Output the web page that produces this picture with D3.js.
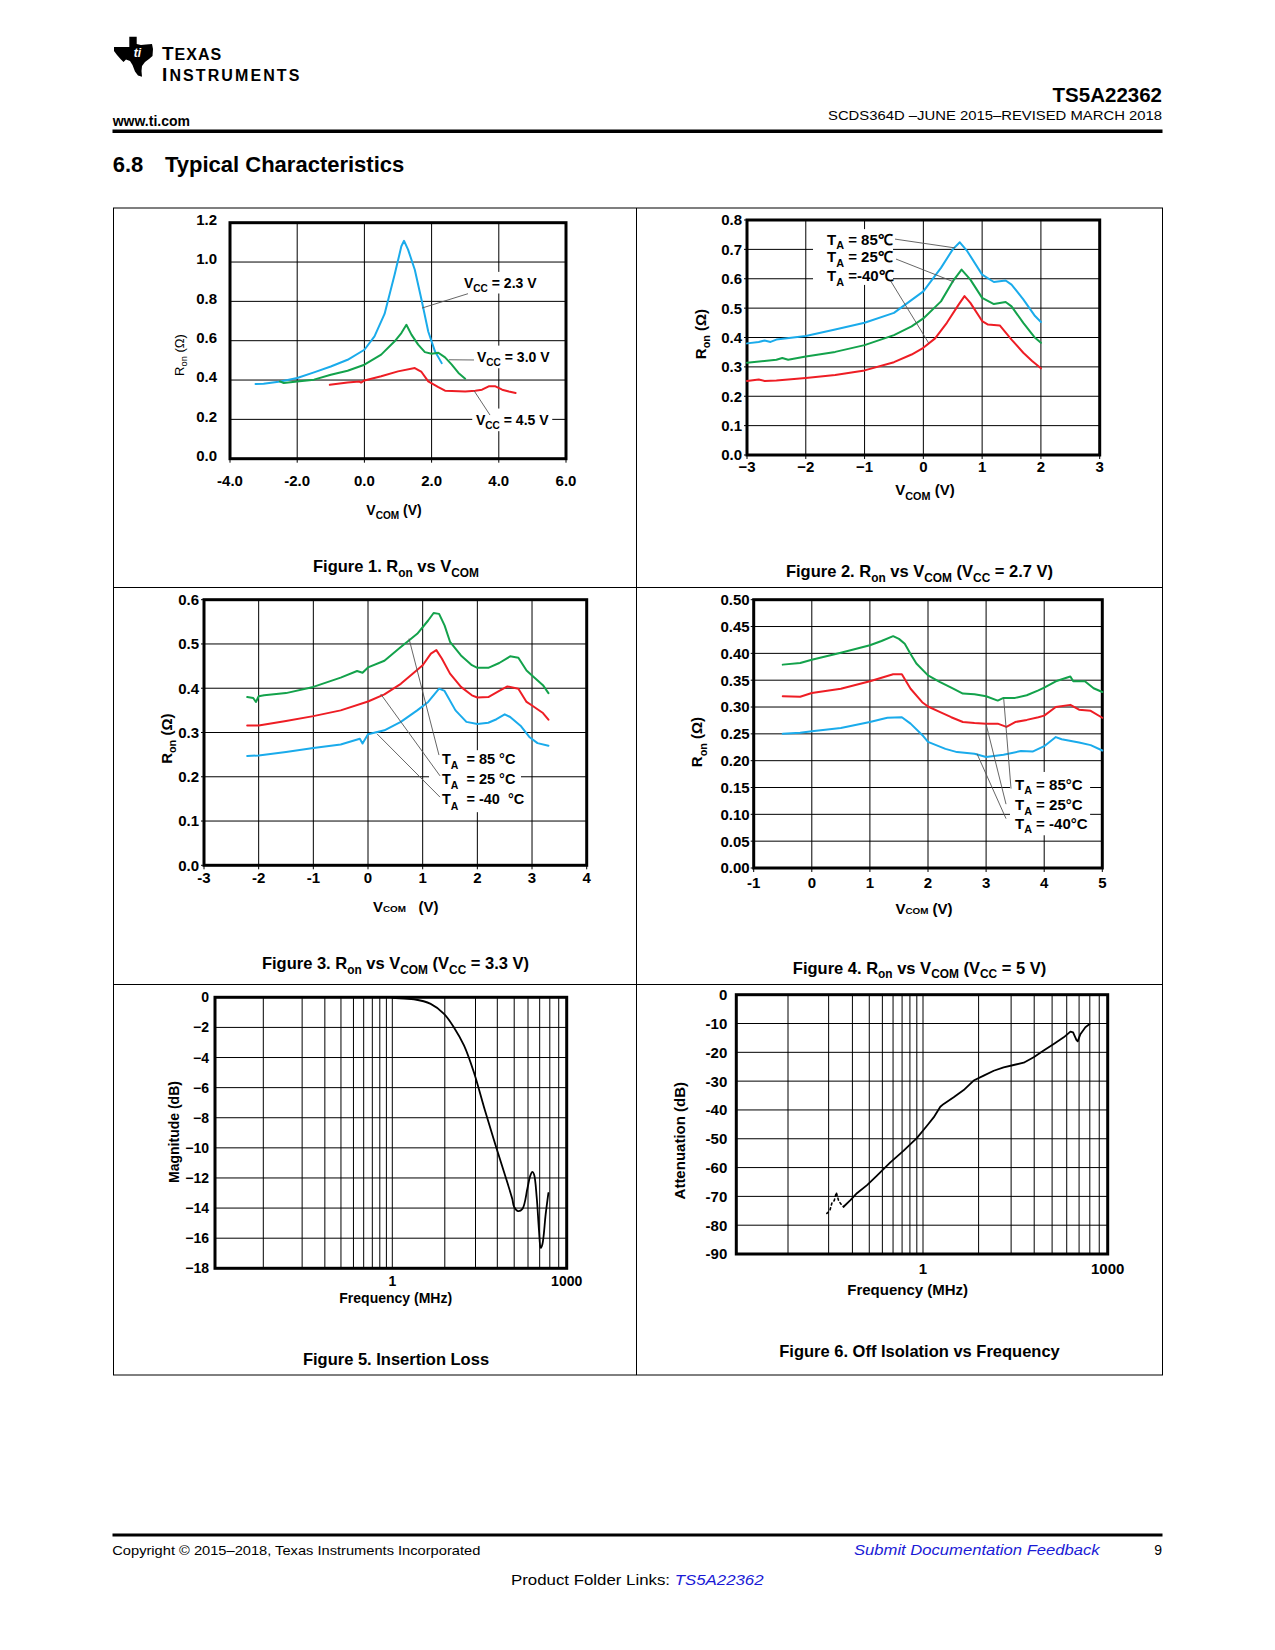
<!DOCTYPE html>
<html><head><meta charset="utf-8">
<script src="https://cdn.jsdelivr.net/npm/d3@7"></script>
<style>
body{margin:0;background:#fff}
svg{display:block}
text{font-family:"Liberation Sans",Arial,Helvetica,sans-serif}
</style>
</head><body>
<svg id="page" width="1275" height="1650"></svg>
<script>
// ---------------- DATA ----------------
// Figure 1: Ron vs VCOM for three supply voltages  [VCOM (V), Ron (ohm)]
const fig1Vcc23 = [[-3.24,0.38],[-3.0,0.381],[-2.5,0.393],[-2.0,0.41],[-1.5,0.439],[-1.0,0.469],[-0.5,0.503],[0,0.554],[0.3,0.622],[0.6,0.736],[0.9,0.936],[1.1,1.08],[1.18,1.108],[1.3,1.063],[1.5,0.961],[1.7,0.808],[1.9,0.647],[2.1,0.546],[2.3,0.486]];
const fig1Vcc30 = [[-2.52,0.393],[-2.4,0.385],[-2.0,0.393],[-1.5,0.402],[-1.0,0.427],[-0.5,0.447],[0,0.478],[0.5,0.529],[0.9,0.597],[1.1,0.639],[1.25,0.681],[1.4,0.631],[1.6,0.58],[1.8,0.542],[2.0,0.534],[2.2,0.539],[2.4,0.515],[2.6,0.478],[2.8,0.436],[3.0,0.407]];
const fig1Vcc45 = [[-1.03,0.376],[-0.5,0.388],[-0.15,0.392],[-0.1,0.387],[0,0.398],[0.5,0.419],[1.0,0.444],[1.5,0.461],[1.7,0.441],[1.9,0.393],[2.2,0.364],[2.4,0.346],[3.0,0.342],[3.3,0.346],[3.5,0.351],[3.7,0.368],[3.9,0.368],[4.1,0.351],[4.3,0.342],[4.5,0.334]];
const fig1XTicks = [-4,-2,0,2,4,6];
const fig1XLabels = ["-4.0","-2.0","0.0","2.0","4.0","6.0"];
const fig1YTicks = [0,0.2,0.4,0.6,0.8,1.0,1.2];
const fig1YLabels = ["0.0","0.2","0.4","0.6","0.8","1.0","1.2"];

// Figure 2: VCC = 2.7 V
const fig2T85 = [[-3,0.38],[-2.8,0.385],[-2.7,0.39],[-2.6,0.385],[-2.5,0.393],[-2,0.405],[-1.5,0.427],[-1,0.45],[-0.5,0.484],[0,0.557],[0.3,0.637],[0.5,0.70],[0.62,0.724],[0.75,0.693],[1.0,0.614],[1.2,0.589],[1.4,0.594],[1.5,0.58],[1.7,0.53],[1.9,0.473],[2.0,0.453]];
const fig2T25 = [[-3,0.314],[-2.5,0.324],[-2.4,0.33],[-2.3,0.324],[-2,0.335],[-1.5,0.351],[-1,0.374],[-0.5,0.408],[-0.2,0.438],[0,0.465],[0.3,0.523],[0.5,0.591],[0.65,0.631],[0.8,0.597],[1.0,0.535],[1.2,0.514],[1.4,0.521],[1.5,0.506],[1.7,0.45],[1.9,0.399],[2.0,0.382]];
const fig2Tm40 = [[-3,0.252],[-2.8,0.257],[-2.7,0.252],[-2.5,0.254],[-2,0.262],[-1.5,0.272],[-1,0.288],[-0.5,0.316],[-0.2,0.342],[0,0.365],[0.2,0.397],[0.4,0.45],[0.6,0.512],[0.7,0.541],[0.8,0.518],[1.0,0.456],[1.1,0.444],[1.3,0.441],[1.5,0.393],[1.7,0.348],[1.85,0.32],[2.0,0.295]];
const fig2XTicks = [-3,-2,-1,0,1,2,3];
const fig2XLabels = ["\u22123","\u22122","\u22121","0","1","2","3"];
const fig2YTicks = [0,0.1,0.2,0.3,0.4,0.5,0.6,0.7,0.8];
const fig2YLabels = ["0.0","0.1","0.2","0.3","0.4","0.5","0.6","0.7","0.8"];

// Figure 3: VCC = 3.3 V
const fig3T85 = [[-2.21,0.380],[-2.1,0.378],[-2.05,0.369],[-2.0,0.382],[-1.9,0.384],[-1.5,0.389],[-1.0,0.403],[-0.5,0.424],[-0.2,0.439],[-0.1,0.435],[0,0.447],[0.3,0.462],[0.6,0.493],[0.9,0.523],[1.1,0.553],[1.2,0.570],[1.3,0.568],[1.4,0.542],[1.5,0.505],[1.7,0.474],[1.9,0.452],[2.0,0.446],[2.2,0.446],[2.4,0.457],[2.6,0.472],[2.75,0.469],[2.9,0.44],[3.0,0.429],[3.2,0.407],[3.3,0.389]];
const fig3T25 = [[-2.21,0.316],[-2.0,0.316],[-1.5,0.326],[-1.0,0.337],[-0.5,0.350],[0,0.370],[0.3,0.386],[0.6,0.410],[0.8,0.431],[1.0,0.452],[1.15,0.478],[1.25,0.486],[1.35,0.467],[1.5,0.433],[1.7,0.403],[1.9,0.384],[2.0,0.379],[2.2,0.38],[2.4,0.394],[2.55,0.404],[2.75,0.399],[2.9,0.369],[3.0,0.361],[3.2,0.344],[3.3,0.329]];
const fig3Tm40 = [[-2.21,0.247],[-2.0,0.248],[-1.5,0.256],[-1.0,0.265],[-0.5,0.273],[-0.15,0.286],[-0.1,0.275],[0,0.296],[0.3,0.305],[0.6,0.324],[0.9,0.350],[1.1,0.369],[1.3,0.399],[1.4,0.394],[1.6,0.350],[1.8,0.324],[2.0,0.319],[2.2,0.322],[2.35,0.33],[2.5,0.341],[2.6,0.335],[2.8,0.314],[2.95,0.29],[3.1,0.276],[3.3,0.27]];
const fig3XTicks = [-3,-2,-1,0,1,2,3,4];
const fig3XLabels = ["-3","-2","-1","0","1","2","3","4"];
const fig3YTicks = [0,0.1,0.2,0.3,0.4,0.5,0.6];
const fig3YLabels = ["0.0","0.1","0.2","0.3","0.4","0.5","0.6"];

// Figure 4: VCC = 5 V
const fig4T85 = [[-0.5,0.379],[-0.2,0.382],[0,0.388],[0.5,0.401],[1.0,0.415],[1.2,0.423],[1.4,0.432],[1.5,0.427],[1.6,0.418],[1.7,0.399],[1.8,0.381],[2.0,0.359],[2.2,0.347],[2.4,0.336],[2.6,0.325],[2.8,0.324],[3.0,0.32],[3.2,0.312],[3.3,0.317],[3.5,0.317],[3.7,0.322],[3.9,0.331],[4.0,0.336],[4.2,0.348],[4.45,0.357],[4.5,0.348],[4.7,0.348],[4.85,0.335],[5.0,0.328]];
const fig4T25 = [[-0.5,0.32],[-0.2,0.319],[0,0.326],[0.5,0.334],[1.0,0.348],[1.4,0.361],[1.55,0.361],[1.7,0.334],[1.9,0.309],[2.0,0.301],[2.2,0.291],[2.4,0.281],[2.6,0.272],[2.8,0.27],[3.0,0.269],[3.2,0.269],[3.35,0.263],[3.5,0.272],[3.7,0.276],[3.9,0.281],[4.0,0.284],[4.2,0.3],[4.45,0.304],[4.6,0.295],[4.8,0.293],[5.0,0.28]];
const fig4Tm40 = [[-0.5,0.25],[-0.2,0.252],[0,0.255],[0.5,0.261],[1.0,0.272],[1.3,0.28],[1.55,0.281],[1.7,0.269],[1.9,0.248],[2.0,0.235],[2.3,0.222],[2.5,0.216],[2.8,0.213],[3.0,0.207],[3.3,0.211],[3.6,0.218],[3.8,0.217],[4.0,0.227],[4.2,0.244],[4.3,0.24],[4.6,0.234],[4.8,0.229],[5.0,0.219]];
const fig4XTicks = [-1,0,1,2,3,4,5];
const fig4XLabels = ["-1","0","1","2","3","4","5"];
const fig4YTicks = [0,0.05,0.10,0.15,0.20,0.25,0.30,0.35,0.40,0.45,0.50];
const fig4YLabels = ["0.00","0.05","0.10","0.15","0.20","0.25","0.30","0.35","0.40","0.45","0.50"];

// Figure 5: insertion loss [MHz, dB]
const fig5Loss = [[1,-0.04],[1.59,-0.09],[2.36,-0.13],[4.57,-0.44],[7.75,-1.1],[11.5,-2.0],[17.1,-3.2],[25.4,-5.0],[37.8,-7.3],[56.2,-9.5],[83.5,-11.6],[116,-13.4],[124,-13.9],[145,-14.2],[173,-14.05],[211,-12.7],[234,-11.9],[257,-11.6],[274,-11.75],[305,-13.3],[334,-15.5],[357,-16.65],[382,-16.4],[435,-14.4],[484,-13.0]];
const fig5YTicks = [0,-2,-4,-6,-8,-10,-12,-14,-16,-18];
const fig5YLabels = ["0","\u22122","\u22124","\u22126","\u22128","\u221210","\u221212","\u221214","\u221216","\u221218"];

// Figure 6: off isolation [MHz, dB]
const fig6Noise = [[0.194,-75.9],[0.204,-75.0],[0.212,-72.1],[0.22,-71.5],[0.228,-68.6],[0.237,-71.5],[0.247,-72.7],[0.258,-73.6]];
const fig6Iso = [[0.258,-73.6],[0.29,-71.3],[0.324,-68.9],[0.385,-66.1],[0.456,-62.8],[0.573,-58.2],[0.719,-54.1],[0.903,-49.7],[1.16,-45.5],[1.49,-42.6],[1.91,-38.9],[2.17,-37.9],[3.15,-35.6],[4.58,-33.1],[6.65,-29.8],[9.68,-28.1],[14.1,-26.4],[20.4,-25.2],[29.7,-24.4],[43.2,-23.6],[62.8,-21.7],[91.2,-19.4],[133,-17.1],[193,-14.8],[248,-12.8],[274,-13.1],[310,-15.7],[326,-16.2],[360,-13.7],[434,-11.3],[510,-10.2]];
const fig6YTicks = [0,-10,-20,-30,-40,-50,-60,-70,-80,-90];
const fig6YLabels = ["0","-10","-20","-30","-40","-50","-60","-70","-80","-90"];

// Frequency gridlines as drawn in figures 5 and 6 (MHz)
const freqGrid = [0.1,0.2,0.3,0.4,0.5,0.6,0.7,0.8,0.9,1,8,27,64,125,216,343,512,729,1000];
const freqTicks = [1,1000];
const freqLabels = ["1","1000"];

// ---------------- DRAWING ----------------
const svg = d3.select('#page');
svg.append('rect').attr('width',1275).attr('height',1650).attr('fill','#fff');
const BLUE='#1aabeb', GREEN='#13a24b', RED='#ee1d24', LINK='#1a1ad6';

function rich(g, x, y, parts, o={}){
  const size=o.size||14;
  const t=g.append('text').attr('x',x).attr('y',y)
    .attr('font-size',size).attr('font-weight',o.weight||'bold')
    .attr('text-anchor',o.anchor||'start').attr('fill',o.fill||'#000');
  if(o.family) t.attr('font-family',o.family);
  if(o.style) t.attr('font-style',o.style);
  if(o.rotate) t.attr('transform',`rotate(${o.rotate},${x},${y})`);
  let shift=0;
  parts.forEach(p=>{
    const txt=p[0], kind=p[1];
    const sp=t.append('tspan').text(txt);
    let target=0, fs=size;
    if(kind==='sub'){target=size*(o.subDrop||0.3); fs=size*(o.subScale||0.72);}
    else if(kind==='small'){fs=size*0.66;}
    sp.attr('font-size',fs);
    if(target!==shift){sp.attr('dy',target-shift); shift=target;}
  });
  if(o.textLength) t.attr('textLength',o.textLength).attr('lengthAdjust','spacingAndGlyphs');
  return t;
}

function drawPanel(c){
  const g=svg.append('g');
  const L=c.px[0], R=c.px[1], B=c.py[0], T=c.py[1];
  const fam=c.family||null;
  g.selectAll(null).data(c.xGrid).join('line')
    .attr('x1',d=>c.x(d)).attr('x2',d=>c.x(d)).attr('y1',T).attr('y2',B)
    .attr('stroke','#000').attr('stroke-width',1);
  g.selectAll(null).data(c.yGrid).join('line')
    .attr('y1',d=>c.y(d)).attr('y2',d=>c.y(d)).attr('x1',L).attr('x2',R)
    .attr('stroke','#000').attr('stroke-width',1);
  if(c.tickX) g.selectAll(null).data(c.xTicks).join('line')
    .attr('x1',d=>c.x(d)).attr('x2',d=>c.x(d)).attr('y1',B).attr('y2',B+c.tickX)
    .attr('stroke','#000').attr('stroke-width',1);
  if(c.tickY) g.selectAll(null).data(c.yTicks).join('line')
    .attr('y1',d=>c.y(d)).attr('y2',d=>c.y(d)).attr('x1',L-c.tickY).attr('x2',L)
    .attr('stroke','#000').attr('stroke-width',1);
  (c.boxes||[]).forEach(b=>{
    g.append('rect').attr('x',c.x(b[0])).attr('y',c.y(b[3]))
      .attr('width',c.x(b[1])-c.x(b[0])).attr('height',c.y(b[2])-c.y(b[3])).attr('fill','#fff');
  });
  g.append('rect').attr('x',L).attr('y',T).attr('width',R-L).attr('height',B-T)
    .attr('fill','none').attr('stroke','#000').attr('stroke-width',3);
  c.series.forEach(s=>{
    g.append('path')
      .attr('d', d3.line().x(d=>c.x(d[0])).y(d=>c.y(d[1])).curve(s.curve||d3.curveLinear)(s.data))
      .attr('fill','none').attr('stroke',s.color).attr('stroke-width',s.width||2)
      .attr('stroke-dasharray',s.dash||null).attr('stroke-linejoin','round').attr('stroke-linecap','round');
  });
  (c.leaders||[]).forEach(l=>{
    g.append('line').attr('x1',c.x(l[0])).attr('y1',c.y(l[1])).attr('x2',c.x(l[2])).attr('y2',c.y(l[3]))
      .attr('stroke','#555').attr('stroke-width',0.9);
  });
  const xl=g.selectAll(null).data(c.xTicks).join('text')
    .attr('x',d=>c.x(d)).attr('y',B+c.xLabDy).attr('text-anchor','middle')
    .attr('font-size',c.tickSize).attr('font-weight','bold').text((d,i)=>c.xLabels[i]);
  const yl=g.selectAll(null).data(c.yTicks).join('text')
    .attr('x',L-c.yLabDx).attr('y',d=>c.y(d)+c.tickSize*0.36+(c.yLabShift||0)).attr('text-anchor','end')
    .attr('font-size',c.tickSize).attr('font-weight','bold').text((d,i)=>c.yLabels[i]);
  if(fam){xl.attr('font-family',fam); yl.attr('font-family',fam);}
  return g;
}

// ---- Page header ----
const logoPts=[[129.3,36.7],[136.7,36.7],[136.7,44],[141,45],[146,44.5],[152,44],[153,49],[152.5,56],[149,59],[145,62],[142,66],[141.5,71],[142,76.7],[138,75.5],[135,71.5],[132.5,65],[130,61],[126,59.5],[123.5,62],[120.5,59],[117,55],[114,51],[114,47],[129.3,47]];
svg.append('path').attr('d',d3.line()(logoPts)+'Z').attr('fill','#000');
svg.append('text').attr('x',137.5).attr('y',56.5).attr('text-anchor','middle')
  .attr('font-family','"Liberation Serif",serif').attr('font-style','italic').attr('font-weight','bold')
  .attr('font-size',12).attr('fill','#fff').text('ti');
{
  const t1=svg.append('text').attr('x',162).attr('y',59.5).attr('font-family','"Liberation Serif","DejaVu Serif",serif')
    .attr('font-weight','bold').attr('font-size',19).attr('letter-spacing',1);
  t1.append('tspan').text('T');
  t1.append('tspan').attr('font-size',16).text('EXAS');
  const t2=svg.append('text').attr('x',162).attr('y',81).attr('font-family','"Liberation Serif","DejaVu Serif",serif')
    .attr('font-weight','bold').attr('font-size',19).attr('letter-spacing',2.1);
  t2.append('tspan').text('I');
  t2.append('tspan').attr('font-size',16).text('NSTRUMENTS');
}
svg.append('text').attr('x',1162).attr('y',101.5).attr('text-anchor','end').attr('font-size',20.5).attr('font-weight','bold').text('TS5A22362');
svg.append('text').attr('x',112.7).attr('y',125.5).attr('font-size',14).attr('font-weight','bold').text('www.ti.com');
svg.append('text').attr('x',1162).attr('y',120).attr('text-anchor','end').attr('font-size',13)
  .attr('textLength',334).attr('lengthAdjust','spacingAndGlyphs').text('SCDS364D \u2013JUNE 2015\u2013REVISED MARCH 2018');
svg.append('rect').attr('x',112.5).attr('y',129.5).attr('width',1050).attr('height',3.5).attr('fill','#000');
svg.append('text').attr('x',112.7).attr('y',171.5).attr('font-size',22).attr('font-weight','bold').text('6.8');
svg.append('text').attr('x',165).attr('y',171.5).attr('font-size',22).attr('font-weight','bold').text('Typical Characteristics');

// ---- Panel grid ----
svg.append('rect').attr('x',113.5).attr('y',208).attr('width',1049).attr('height',1167).attr('fill','none').attr('stroke','#000').attr('stroke-width',1);
svg.append('line').attr('x1',636.5).attr('x2',636.5).attr('y1',208).attr('y2',1375).attr('stroke','#000');
svg.append('line').attr('x1',113.5).attr('x2',1162.5).attr('y1',587.5).attr('y2',587.5).attr('stroke','#000');
svg.append('line').attr('x1',113.5).attr('x2',1162.5).attr('y1',984.5).attr('y2',984.5).attr('stroke','#000');

// ---- Figure 1 ----
{
  const x=d3.scaleLinear().domain([-4,6]).range([230,566]);
  const y=d3.scaleLinear().domain([0,1.2]).range([458.7,222.7]);
  const g=drawPanel({x,y,px:[230,566],py:[458.7,222.7],xGrid:fig1XTicks,yGrid:fig1YTicks,
    xTicks:fig1XTicks,xLabels:fig1XLabels,yTicks:fig1YTicks,yLabels:fig1YLabels,
    tickSize:15,xLabDy:27.5,yLabDx:13,tickX:4,yLabShift:-3,
    boxes:[[2.85,5.26,0.84,0.95],[3.24,5.62,0.46,0.575],[3.21,5.59,0.14,0.255]],
    series:[{data:fig1Vcc23,color:BLUE},{data:fig1Vcc30,color:GREEN},{data:fig1Vcc45,color:RED}],
    leaders:[[3.083,0.839,1.714,0.766],[3.262,0.502,2.518,0.503],[3.738,0.222,3.262,0.346]]});
  rich(g,x(2.964),y(0.893)+5,[["V"],["CC","sub"],[" = 2.3 V"]],{size:14});
  rich(g,x(3.351),y(0.517)+5,[["V"],["CC","sub"],[" = 3.0 V"]],{size:14});
  rich(g,x(3.321),y(0.197)+5,[["V"],["CC","sub"],[" = 4.5 V"]],{size:14});
  rich(g,394,515,[["V"],["COM","sub"],[" (V)"]],{size:14,anchor:'middle'});
  rich(g,183.5,355,[["R"],["on","sub"],[" (\u03a9)"]],{size:13,anchor:'middle',rotate:-90,weight:'normal'});
  rich(g,396,572,[["Figure 1. R"],["on","sub"],[" vs V"],["COM","sub"]],{size:16.5,anchor:'middle'});
}

// ---- Figure 2 ----
{
  const x=d3.scaleLinear().domain([-3,3]).range([747,1099.7]);
  const y=d3.scaleLinear().domain([0,0.8]).range([455,220]);
  const g=drawPanel({x,y,px:[747,1099.7],py:[455,220],xGrid:fig2XTicks,yGrid:fig2YTicks,
    xTicks:fig2XTicks,xLabels:fig2XLabels,yTicks:fig2YTicks,yLabels:fig2YLabels,
    tickSize:15,xLabDy:16.5,yLabDx:5,tickX:4,tickY:3,
    boxes:[[-1.877,-0.516,0.579,0.769]],
    series:[{data:fig2T85,color:BLUE},{data:fig2T25,color:GREEN},{data:fig2Tm40,color:RED}],
    leaders:[[-0.482,0.735,0.539,0.705],[-0.465,0.667,0.522,0.589],[-0.567,0.596,0.091,0.381]]});
  rich(g,x(-1.639),y(0.732)+5,[["T"],["A","sub"],[" = 85\u2103"]],{size:15});
  rich(g,x(-1.639),y(0.674)+5,[["T"],["A","sub"],[" = 25\u2103"]],{size:15});
  rich(g,x(-1.639),y(0.609)+5,[["T"],["A","sub"],[" =-40\u2103"]],{size:15});
  rich(g,925,495,[["V"],["COM","sub"],[" (V)"]],{size:15,anchor:'middle'});
  rich(g,705.5,334,[["R"],["on","sub"],[" (\u03a9)"]],{size:15,anchor:'middle',rotate:-90});
  rich(g,919.5,577,[["Figure 2. R"],["on","sub"],[" vs V"],["COM","sub"],[" (V"],["CC","sub"],[" = 2.7 V)"]],{size:16.5,anchor:'middle'});
}

// ---- Figure 3 ----
{
  const LATO='Lato,"Open Sans",sans-serif';
  const x=d3.scaleLinear().domain([-3,4]).range([204,586.7]);
  const y=d3.scaleLinear().domain([0,0.6]).range([865.3,599.7]);
  const g=drawPanel({x,y,px:[204,586.7],py:[865.3,599.7],xGrid:fig3XTicks,yGrid:fig3YTicks,
    xTicks:fig3XTicks,xLabels:fig3XLabels,yTicks:fig3YTicks,yLabels:fig3YLabels,
    tickSize:15,xLabDy:18,yLabDx:5,tickX:4,tickY:3,family:LATO,
    boxes:[[1.116,2.798,0.12,0.26]],
    series:[{data:fig3T85,color:GREEN},{data:fig3T25,color:RED},{data:fig3Tm40,color:BLUE}],
    leaders:[[1.298,0.249,0.750,0.512],[1.317,0.202,0.232,0.387],[1.317,0.154,0.164,0.297]]});
  rich(g,x(1.353),y(0.241)+5,[["T"],["A","sub"],["\u00a0\u00a0= 85 \u00b0C"]],{size:14.5,family:LATO,subDrop:0.4});
  rich(g,x(1.353),y(0.196)+5,[["T"],["A","sub"],["\u00a0\u00a0= 25 \u00b0C"]],{size:14.5,family:LATO,subDrop:0.4});
  rich(g,x(1.353),y(0.150)+5,[["T"],["A","sub"],["\u00a0\u00a0= -40 \u00a0\u00b0C"]],{size:14.5,family:LATO,subDrop:0.4});
  rich(g,405.7,912,[["V"],["COM","small"],["\u00a0\u00a0 (V)"]],{size:15,anchor:'middle',family:LATO});
  rich(g,172,738.7,[["R"],["on","sub"],[" (\u03a9)"]],{size:15,anchor:'middle',rotate:-90,family:LATO});
  rich(g,395.5,969,[["Figure 3. R"],["on","sub"],[" vs V"],["COM","sub"],[" (V"],["CC","sub"],[" = 3.3 V)"]],{size:16.5,anchor:'middle'});
}

// ---- Figure 4 ----
{
  const x=d3.scaleLinear().domain([-1,5]).range([753.7,1102.3]);
  const y=d3.scaleLinear().domain([0,0.5]).range([868,599.7]);
  const g=drawPanel({x,y,px:[753.7,1102.3],py:[868,599.7],xGrid:fig4XTicks,yGrid:fig4YTicks,
    xTicks:fig4XTicks,xLabels:fig4XLabels,yTicks:fig4YTicks,yLabels:fig4YLabels,
    tickSize:15,xLabDy:19.5,yLabDx:4,tickX:4,tickY:3,
    boxes:[[3.411,4.79,0.061,0.179]],
    series:[{data:fig4T85,color:GREEN},{data:fig4T25,color:RED},{data:fig4Tm40,color:BLUE}],
    leaders:[[3.429,0.148,3.303,0.3155],[3.343,0.119,2.998,0.269],[3.343,0.092,2.843,0.213]]});
  rich(g,x(3.497),y(0.155)+5,[["T"],["A","sub"],[" = 85\u00b0C"]],{size:15});
  rich(g,x(3.497),y(0.117)+5,[["T"],["A","sub"],[" = 25\u00b0C"]],{size:15});
  rich(g,x(3.497),y(0.082)+5,[["T"],["A","sub"],[" = -40\u00b0C"]],{size:15});
  rich(g,924,914,[["V"],["COM","small"],[" (V)"]],{size:15,anchor:'middle'});
  rich(g,702,742,[["R"],["on","sub"],[" (\u03a9)"]],{size:15,anchor:'middle',rotate:-90});
  rich(g,919.5,973.5,[["Figure 4. R"],["on","sub"],[" vs V"],["COM","sub"],[" (V"],["CC","sub"],[" = 5 V)"]],{size:16.5,anchor:'middle'});
}

// ---- Figure 5 ----
{
  const pos=d3.scaleLinear().domain([-1.374,-1,0,3]).range([215,263.3,392.3,566.7]);
  const x=f=>pos(Math.log10(f));
  const y=d3.scaleLinear().domain([-18,0]).range([1268.3,997.3]);
  const g=drawPanel({x,y,px:[215,566.7],py:[1268.3,997.3],xGrid:freqGrid,yGrid:fig5YTicks,
    xTicks:freqTicks,xLabels:freqLabels,yTicks:fig5YTicks,yLabels:fig5YLabels,
    tickSize:14,xLabDy:18,yLabDx:6,
    series:[{data:fig5Loss,color:'#000',width:1.8,curve:d3.curveCatmullRom}]});
  rich(g,395.7,1303,[["Frequency (MHz)"]],{size:14,anchor:'middle'});
  rich(g,179,1132,[["Magnitude (dB)"]],{size:14,anchor:'middle',rotate:-90});
  rich(g,396,1365,[["Figure 5. Insertion Loss"]],{size:16.5,anchor:'middle'});
}

// ---- Figure 6 ----
{
  const pos=d3.scaleLinear().domain([-1.383,-1,0,3]).range([736.3,788,923,1107.7]);
  const x=f=>pos(Math.log10(f));
  const y=d3.scaleLinear().domain([-90,0]).range([1254,994.7]);
  const g=drawPanel({x,y,px:[736.3,1107.7],py:[1254,994.7],xGrid:freqGrid,yGrid:fig6YTicks,
    xTicks:freqTicks,xLabels:freqLabels,yTicks:fig6YTicks,yLabels:fig6YLabels,
    tickSize:15,xLabDy:19.5,yLabDx:9,
    series:[{data:fig6Noise,color:'#000',width:1.6,dash:'2,3'},{data:fig6Iso,color:'#000',width:1.8}]});
  rich(g,907.7,1295,[["Frequency (MHz)"]],{size:15,anchor:'middle'});
  rich(g,685.5,1140.7,[["Attenuation (dB)"]],{size:15,anchor:'middle',rotate:-90});
  rich(g,919.5,1357,[["Figure 6. Off Isolation vs Frequency"]],{size:16.5,anchor:'middle'});
}

// ---- Footer ----
svg.append('rect').attr('x',112.5).attr('y',1533.5).attr('width',1050).attr('height',3).attr('fill','#000');
svg.append('text').attr('x',112.3).attr('y',1554.5).attr('font-size',13).attr('textLength',368).attr('lengthAdjust','spacingAndGlyphs')
  .text('Copyright \u00a9 2015\u20132018, Texas Instruments Incorporated');
svg.append('text').attr('x',854).attr('y',1554.5).attr('font-size',14).attr('font-style','italic').attr('fill',LINK)
  .attr('textLength',245.6).attr('lengthAdjust','spacingAndGlyphs').text('Submit Documentation Feedback');
svg.append('text').attr('x',1162).attr('y',1554.5).attr('text-anchor','end').attr('font-size',14).text('9');
{
  const t=svg.append('text').attr('x',511).attr('y',1585).attr('font-size',14).attr('textLength',252.6).attr('lengthAdjust','spacingAndGlyphs');
  t.append('tspan').text('Product Folder Links: ');
  t.append('tspan').attr('fill',LINK).attr('font-style','italic').text('TS5A22362');
}
</script>
</body></html>
